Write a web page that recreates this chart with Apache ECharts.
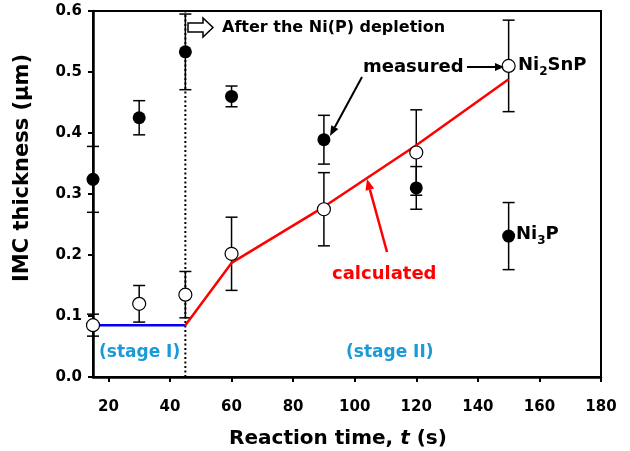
<!DOCTYPE html>
<html>
<head>
<meta charset="utf-8">
<script src="https://cdn.jsdelivr.net/npm/echarts@6.0.0/dist/echarts.min.js"></script>
<style>
html,body{margin:0;padding:0;background:#fff;}
#chart{width:630px;height:451px;}
</style>
</head>
<body>
<div id="chart"></div>
<script>
// ---- data ----
const reactionTime = [15, 30, 45, 60, 90, 120, 150];
const ni2snpThickness = [0.085, 0.12, 0.135, 0.202, 0.275, 0.368, 0.51];
const ni2snpError = [0.018, 0.03, 0.038, 0.06, 0.06, 0.07, 0.075];
const ni3pThickness = [0.324, 0.425, 0.533, 0.46, 0.389, 0.31, 0.231];
const ni3pError = [0.054, 0.028, 0.062, 0.017, 0.04, 0.035, 0.055];
const stage1Time = [15, 45];
const stage1Calc = [0.085, 0.085];
const stage2Time = [45, 60, 90, 120, 150];
const stage2Calc = [0.085, 0.187, 0.279, 0.380, 0.488];
const depletionTime = 45;
const xTicks = [20, 40, 60, 80, 100, 120, 140, 160, 180];
const yMin = 0, yMax = 0.6, yStep = 0.1;

const FONT = '"DejaVu Sans", "Liberation Sans", Arial, sans-serif';
const zip = (xs, ys, es) => xs.map((x, i) => es ? [x, ys[i], es[i]] : [x, ys[i]]);

function errorBarItem(params, api) {
  const x = api.value(0), y = api.value(1), e = api.value(2);
  const t = api.coord([x, y + e]), b = api.coord([x, y - e]);
  const hw = 6;
  const st = {stroke: '#000', lineWidth: 1.5};
  return {type: 'group', children: [
    {type: 'line', shape: {x1: t[0], y1: t[1], x2: b[0], y2: b[1]}, style: st},
    {type: 'line', shape: {x1: t[0] - hw, y1: t[1], x2: t[0] + hw, y2: t[1]}, style: st},
    {type: 'line', shape: {x1: b[0] - hw, y1: b[1], x2: b[0] + hw, y2: b[1]}, style: st}
  ]};
}

const chart = echarts.init(document.getElementById('chart'), null, {renderer: 'canvas'});

function arrow(x1, y1, x2, y2, color, w, hl, hwid) {
  const ang = Math.atan2(y2 - y1, x2 - x1);
  const bx = x2 - hl * Math.cos(ang), by = y2 - hl * Math.sin(ang);
  const px = -Math.sin(ang) * hwid / 2, py = Math.cos(ang) * hwid / 2;
  return [
    {type: 'line', shape: {x1: x1, y1: y1, x2: bx, y2: by}, style: {stroke: color, lineWidth: w}, z: 100},
    {type: 'polygon', shape: {points: [[x2, y2], [bx + px, by + py], [bx - px, by - py]]}, style: {fill: color}, z: 100}
  ];
}

const textEl = (text, x, y, size, color, extra) => Object.assign({
  type: 'text', z: 100,
  style: {text: text, x: x, y: y, font: 'bold ' + size + 'px ' + FONT, fill: color,
          align: 'left', verticalAlign: 'middle'}
}, extra || {});

const subRich = (size) => ({
  n: {font: 'bold ' + size + 'px ' + FONT, fill: '#000', lineHeight: 22, verticalAlign: 'top'},
  s: {font: 'bold ' + Math.round(size * 0.68) + 'px ' + FONT, fill: '#000', lineHeight: 12, verticalAlign: 'bottom'}
});

const graphics = [].concat(
  [
    // hollow arrow
    {type: 'polygon', z: 100, shape: {points: [[188, 23], [203, 23], [203, 18], [213, 27.5], [203, 37], [203, 32], [188, 32]]},
     style: {fill: '#fff', stroke: '#000', lineWidth: 1.5}},
    textEl('After the Ni(P) depletion', 222, 28, 16, '#000'),
    textEl('measured', 363, 67, 18, '#000'),
    {type: 'text', z: 100, style: {text: '{n|Ni}{s|2}{n|SnP}', x: 518, y: 67, rich: subRich(18), align: 'left', verticalAlign: 'middle'}},
    {type: 'text', z: 100, style: {text: '{n|Ni}{s|3}{n|P}', x: 516, y: 236, rich: subRich(18), align: 'left', verticalAlign: 'middle'}},
    textEl('calculated', 332, 274, 18, '#ff0000'),
    textEl('(stage I)', 99, 353, 17, '#1a9ad6'),
    textEl('(stage II)', 346, 353, 17, '#1a9ad6'),
    // axis titles
    {type: 'text', z: 100, rotation: Math.PI / 2, x: 23, y: 168,
     style: {text: 'IMC thickness (µm)', x: 0, y: 0, font: 'bold 21px ' + FONT, fill: '#000', align: 'center', verticalAlign: 'middle'}},
    {type: 'text', z: 100,
     style: {text: '{a|Reaction time, }{b|t}{a| (s)}', x: 338, y: 439, align: 'center', verticalAlign: 'middle',
       rich: {a: {font: 'bold 20px ' + FONT, fill: '#000'}, b: {font: 'italic bold 20px ' + FONT, fill: '#000'}}}}
  ],
  arrow(467, 67, 504, 67, '#000', 2, 9, 8),
  arrow(362, 77, 330, 136, '#000', 2, 10, 8),
  arrow(387, 252, 367, 179, '#ff0000', 2.5, 11, 9)
);

const option = {
  animation: false,
  backgroundColor: '#fff',
  grid: {left: 93, right: 29, top: 11, bottom: 74, show: true, borderColor: '#000', borderWidth: 2, backgroundColor: 'transparent'},
  xAxis: {
    type: 'value', min: 15, max: 180,
    axisLine: {show: true, lineStyle: {color: '#000', width: 2.5}},
    axisTick: {show: true, customValues: xTicks, length: 5, lineStyle: {color: '#000', width: 2}},
    axisLabel: {customValues: xTicks, margin: 23, color: '#000', fontFamily: FONT, fontWeight: 'bold', fontSize: 15},
    splitLine: {show: false}
  },
  yAxis: {
    type: 'value', min: yMin, max: yMax, interval: yStep,
    axisLine: {show: true, lineStyle: {color: '#000', width: 2.5}},
    axisTick: {show: true, length: 5, lineStyle: {color: '#000', width: 2}},
    axisLabel: {margin: 11, color: '#000', fontFamily: FONT, fontWeight: 'bold', fontSize: 15,
      formatter: v => v.toFixed(1)},
    splitLine: {show: false}
  },
  series: [
    {type: 'line', name: 'depletion', data: [[depletionTime, yMin], [depletionTime, yMax]], symbol: 'none',
     lineStyle: {color: '#000', width: 2, type: [2, 2.5]}, z: 2},
    {type: 'custom', name: 'ni3pErr', renderItem: errorBarItem, data: zip(reactionTime, ni3pThickness, ni3pError),
     encode: {x: 0, y: 1}, z: 3},
    {type: 'custom', name: 'ni2snpErr', renderItem: errorBarItem, data: zip(reactionTime, ni2snpThickness, ni2snpError),
     encode: {x: 0, y: 1}, z: 3},
    {type: 'line', name: 'stage1', data: zip(stage1Time, stage1Calc), symbol: 'none',
     lineStyle: {color: '#0000ff', width: 2.5}, z: 4},
    {type: 'line', name: 'stage2', data: zip(stage2Time, stage2Calc), symbol: 'none',
     lineStyle: {color: '#ff0000', width: 2.5}, z: 4},
    {type: 'scatter', name: 'Ni3P', data: zip(reactionTime, ni3pThickness), symbol: 'circle', symbolSize: 13,
     itemStyle: {color: '#000', opacity: 1}, z: 5},
    {type: 'scatter', name: 'Ni2SnP', data: zip(reactionTime, ni2snpThickness), symbol: 'circle', symbolSize: 13,
     itemStyle: {color: '#fff', borderColor: '#000', borderWidth: 1.2, opacity: 1}, z: 5}
  ],
  graphic: graphics
};
chart.setOption(option);
</script>
</body>
</html>
